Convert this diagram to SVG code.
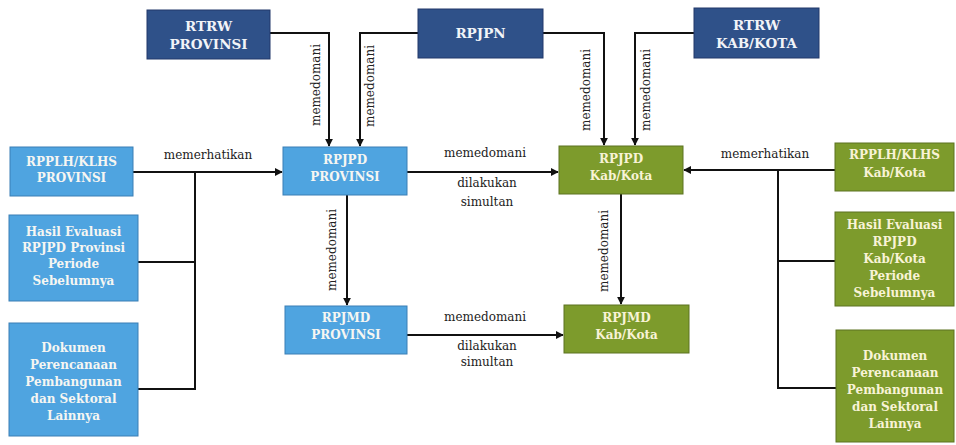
<svg xmlns="http://www.w3.org/2000/svg" width="956" height="445" viewBox="0 0 956 445">
<style>
.dk{fill:#2f5189;stroke:#22396a;stroke-width:1}
.lb{fill:#4fa4e0;stroke:#3a7fb5;stroke-width:1}
.gr{fill:#7d9b2c;stroke:#5c7320;stroke-width:1}
.bt{font-family:"DejaVu Serif",serif;font-weight:bold;font-size:12px;text-anchor:middle;fill:#f6f6f2}
.bt2{font-family:"DejaVu Serif",serif;font-weight:bold;font-size:13.5px;text-anchor:middle;fill:#f2f4f8}
.gt{fill:#f8f3d6}
.lbl{font-family:"DejaVu Serif",serif;font-size:12px;text-anchor:middle;fill:#222}
.ln{fill:none;stroke:#111;stroke-width:2}
</style>
<defs>
<marker id="ah" viewBox="0 0 10 10" refX="9" refY="5" markerWidth="4" markerHeight="4" orient="auto" markerUnits="strokeWidth">
<path d="M0,0 L10,5 L0,10 Z" fill="#111"/>
</marker>
</defs>
<g id="connectors">
<path class="ln" d="M270,33 H329 V146" marker-end="url(#ah)"/>
<path class="ln" d="M418,33 H360 V146" marker-end="url(#ah)"/>
<path class="ln" d="M543,33 H604 V145" marker-end="url(#ah)"/>
<path class="ln" d="M694,33 H635 V145" marker-end="url(#ah)"/>
<path class="ln" d="M133,172 H282" marker-end="url(#ah)"/>
<path class="ln" d="M195,172 V390"/>
<path class="ln" d="M138,262 H195"/>
<path class="ln" d="M138,389 H195"/>
<path class="ln" d="M407,172 H558" marker-end="url(#ah)"/>
<path class="ln" d="M347,195 V305" marker-end="url(#ah)"/>
<path class="ln" d="M407,335 H563" marker-end="url(#ah)"/>
<path class="ln" d="M621,194 V304" marker-end="url(#ah)"/>
<path class="ln" d="M835,170 H684" marker-end="url(#ah)"/>
<path class="ln" d="M778,170 V389"/>
<path class="ln" d="M835,261 H778"/>
<path class="ln" d="M836,388 H778"/>
<text class="lbl" transform="translate(320,85) rotate(-90)">memedomani</text>
<text class="lbl" transform="translate(374,86) rotate(-90)">memedomani</text>
<text class="lbl" transform="translate(590,90) rotate(-90)">memedomani</text>
<text class="lbl" transform="translate(650,90) rotate(-90)">memedomani</text>
<text class="lbl" transform="translate(336,250) rotate(-90)">memedomani</text>
<text class="lbl" transform="translate(608,251) rotate(-90)">memedomani</text>
<text class="lbl" x="208" y="159">memerhatikan</text>
<text class="lbl" x="765" y="158">memerhatikan</text>
<text class="lbl" x="485" y="157">memedomani</text>
<text class="lbl" x="487" y="187">dilakukan</text>
<text class="lbl" x="487" y="206">simultan</text>
<text class="lbl" x="485" y="321">memedomani</text>
<text class="lbl" x="487" y="350">dilakukan</text>
<text class="lbl" x="487" y="366">simultan</text>
</g>
<g id="rtrw-prov">
<rect class="dk" x="147" y="10" width="123" height="49"/>
<text class="bt2" x="208.5" y="31">RTRW</text>
<text class="bt2" x="208.5" y="49">PROVINSI</text>
</g>
<g id="rpjpn">
<rect class="dk" x="418" y="9" width="125" height="49"/>
<text class="bt2" x="480.5" y="38">RPJPN</text>
</g>
<g id="rtrw-kab">
<rect class="dk" x="694" y="8" width="125" height="50"/>
<text class="bt2" x="756.5" y="30">RTRW</text>
<text class="bt2" x="756.5" y="48">KAB/KOTA</text>
</g>
<g id="rpplh-prov">
<rect class="lb" x="10" y="147" width="123" height="49"/>
<text class="bt" x="71.5" y="166">RPPLH/KLHS</text>
<text class="bt" x="71.5" y="182">PROVINSI</text>
</g>
<g id="hasil-prov">
<rect class="lb" x="9" y="215" width="129" height="86"/>
<text class="bt" x="73.5" y="236">Hasil Evaluasi</text>
<text class="bt" x="73.5" y="252">RPJPD Provinsi</text>
<text class="bt" x="73.5" y="268">Periode</text>
<text class="bt" x="73.5" y="285">Sebelumnya</text>
</g>
<g id="dokumen-prov">
<rect class="lb" x="9" y="323" width="129" height="113"/>
<text class="bt" x="73.5" y="352">Dokumen</text>
<text class="bt" x="73.5" y="369">Perencanaan</text>
<text class="bt" x="73.5" y="386">Pembangunan</text>
<text class="bt" x="73.5" y="403">dan Sektoral</text>
<text class="bt" x="73.5" y="420">Lainnya</text>
</g>
<g id="rpjpd-prov">
<rect class="lb" x="283" y="147" width="124" height="48"/>
<text class="bt" x="345" y="164">RPJPD</text>
<text class="bt" x="345" y="181">PROVINSI</text>
</g>
<g id="rpjmd-prov">
<rect class="lb" x="285" y="306" width="122" height="48"/>
<text class="bt" x="346" y="322">RPJMD</text>
<text class="bt" x="346" y="339">PROVINSI</text>
</g>
<g id="rpjpd-kab">
<rect class="gr" x="559" y="146" width="124" height="48"/>
<text class="bt gt" x="621" y="163">RPJPD</text>
<text class="bt gt" x="621" y="180">Kab/Kota</text>
</g>
<g id="rpjmd-kab">
<rect class="gr" x="564" y="305" width="125" height="48"/>
<text class="bt gt" x="626.5" y="322">RPJMD</text>
<text class="bt gt" x="626.5" y="339">Kab/Kota</text>
</g>
<g id="rpplh-kab">
<rect class="gr" x="835" y="143" width="119" height="48"/>
<text class="bt gt" x="894.5" y="159">RPPLH/KLHS</text>
<text class="bt gt" x="894.5" y="177">Kab/Kota</text>
</g>
<g id="hasil-kab">
<rect class="gr" x="835" y="212" width="119" height="94"/>
<text class="bt gt" x="894.5" y="229">Hasil Evaluasi</text>
<text class="bt gt" x="894.5" y="246">RPJPD</text>
<text class="bt gt" x="894.5" y="263">Kab/Kota</text>
<text class="bt gt" x="894.5" y="280">Periode</text>
<text class="bt gt" x="894.5" y="297">Sebelumnya</text>
</g>
<g id="dokumen-kab">
<rect class="gr" x="836" y="330" width="118" height="112"/>
<text class="bt gt" x="895" y="360">Dokumen</text>
<text class="bt gt" x="895" y="377">Perencanaan</text>
<text class="bt gt" x="895" y="394">Pembangunan</text>
<text class="bt gt" x="895" y="411">dan Sektoral</text>
<text class="bt gt" x="895" y="428">Lainnya</text>
</g>
</svg>
